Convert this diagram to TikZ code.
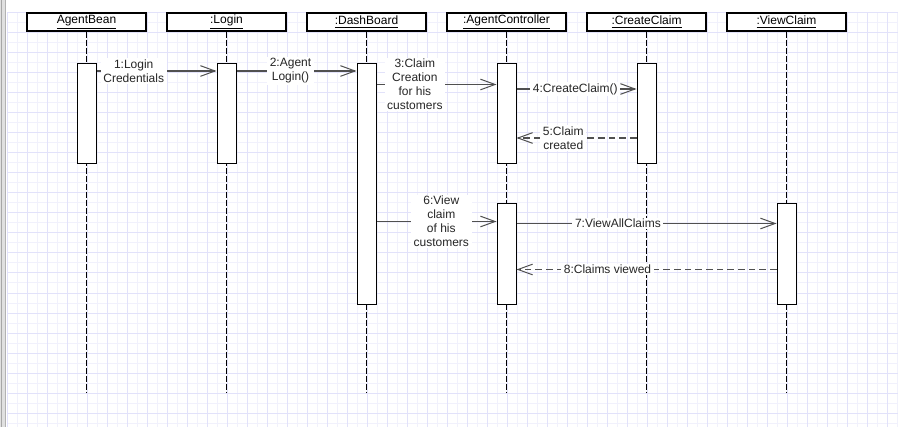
\documentclass[tikz,border=0pt]{standalone}
\usepackage{fontspec}
\setmainfont{Liberation Sans}
\usetikzlibrary{arrows.meta}

\definecolor{gridmajor}{RGB}{226,226,250}
\definecolor{gridminor}{RGB}{241,241,252}
\definecolor{msgline}{RGB}{80,80,80}

\tikzset{
  objbox/.style={draw=black, line width=0.8pt, fill=white, minimum width=89.25pt,
    minimum height=13.5pt, inner sep=0pt, font=\fontsize{9}{10.5}\selectfont},
  actbox/.style={draw=black, line width=0.75pt, fill=white, minimum width=14.25pt,
    inner sep=0pt, anchor=north},
  lifeline/.style={draw=black, line width=0.6pt, dash pattern=on 4.5pt off 1.5pt},
  msg/.style={draw=msgline, line width=0.8pt,
    -{Straight Barb[length=11pt, width=8pt, line width=0.75pt]}},
  reply/.style={msg, dash pattern=on 5pt off 3pt},
  msglabel/.style={fill=white, inner xsep=2pt, inner ysep=1pt, align=center,
    font=\fontsize{9}{10.5}\selectfont, text=black!85}
}

\begin{document}
\begin{tikzpicture}[x=0.75pt, y=-0.75pt]
  % canvas and margins
  \useasboundingbox (0,0) rectangle (898,427);
  \fill[white] (0,0) rectangle (898,427);

  % background grid
  \foreach \gx in {17,37,...,897} \draw[gridminor, line width=0.75pt] (\gx,13) -- (\gx,427);
  \foreach \gy in {23,43,...,427} \draw[gridminor, line width=0.75pt] (7,\gy) -- (898,\gy);
  \foreach \gx in {7,27,...,897} \draw[gridmajor, line width=0.75pt] (\gx,13) -- (\gx,427);
  \foreach \gy in {13,33,...,427} \draw[gridmajor, line width=0.75pt] (7,\gy) -- (898,\gy);

  % left panel edge
  \fill[black!12] (0,0) rectangle (6,427);
  \draw[black!35, line width=0.75pt] (1.5,0) -- (1.5,427);
  \draw[black!30, line width=0.75pt] (5.5,0) -- (5.5,427);

  % lifeline heads
  \node[objbox] (ab) at (86.5,22) {\underline{AgentBean}};
  \node[objbox] (lg) at (226.5,22) {\underline{:Login}};
  \node[objbox] (db) at (366.5,22) {\underline{:DashBoard}};
  \node[objbox] (ac) at (506.5,22) {\underline{:AgentController}};
  \node[objbox] (cc) at (646.5,22) {\underline{:CreateClaim}};
  \node[objbox] (vc) at (786.5,22) {\underline{:ViewClaim}};

  % lifeline ends
  \coordinate (abE) at (86.5,393);
  \coordinate (lgE) at (226.5,393);
  \coordinate (dbE) at (366.5,393);
  \coordinate (acE) at (506.5,393);
  \coordinate (ccE) at (646.5,393);
  \coordinate (vcE) at (786.5,393);
  \foreach \o in {ab,lg,db,ac,cc,vc} \draw[lifeline] (\o.south) -- (\o E);

  % activation bars
  \node[actbox, minimum height=75pt]  (ab1) at (86.5,63.5) {};
  \node[actbox, minimum height=75pt]  (lg1) at (226.5,63.5) {};
  \node[actbox, minimum height=180pt] (db1) at (366.5,63.5) {};
  \node[actbox, minimum height=75pt]  (ac1) at (506.5,63.5) {};
  \node[actbox, minimum height=75pt]  (cc1) at (646.5,63.5) {};
  \node[actbox, minimum height=75pt]  (ac2) at (506.5,203.5) {};
  \node[actbox, minimum height=75pt]  (vc1) at (786.5,203.5) {};

  % message levels
  \coordinate (m1) at (0,71);
  \coordinate (m2) at (0,71);
  \coordinate (m3) at (0,84.5);
  \coordinate (m4) at (0,89);
  \coordinate (m5) at (0,138);
  \coordinate (m6) at (0,221.5);
  \coordinate (m7) at (0,223.5);
  \coordinate (m8) at (0,269.5);

  % messages
  \draw[msg] (ab1.east |- m1) -- node[msglabel, pos=0.31] {1:Login\\Credentials} (lg1.west |- m1);
  \draw[msg] (lg1.east |- m2) -- node[msglabel, pos=0.45] {2:Agent\\Login()} (db1.west |- m2);
  \draw[msg] (db1.east |- m3) -- node[msglabel, pos=0.32] {3:Claim\\Creation\\for his\\customers} (ac1.west |- m3);
  \draw[msg] (ac1.east |- m4) -- node[msglabel, pos=0.49] {4:CreateClaim()} (cc1.west |- m4);
  \draw[reply] (cc1.west |- m5) -- node[msglabel, pos=0.61] {5:Claim\\created} (ac1.east |- m5);
  \draw[msg] (db1.east |- m6) -- node[msglabel, pos=0.54] {6:View\\claim\\of his\\customers} (ac2.west |- m6);
  \draw[msg] (ac2.east |- m7) -- node[msglabel, pos=0.39] {7:ViewAllClaims} (vc1.west |- m7);
  \draw[reply] (vc1.west |- m8) -- node[msglabel, pos=0.65] {8:Claims viewed} (ac2.east |- m8);
\end{tikzpicture}
\end{document}
